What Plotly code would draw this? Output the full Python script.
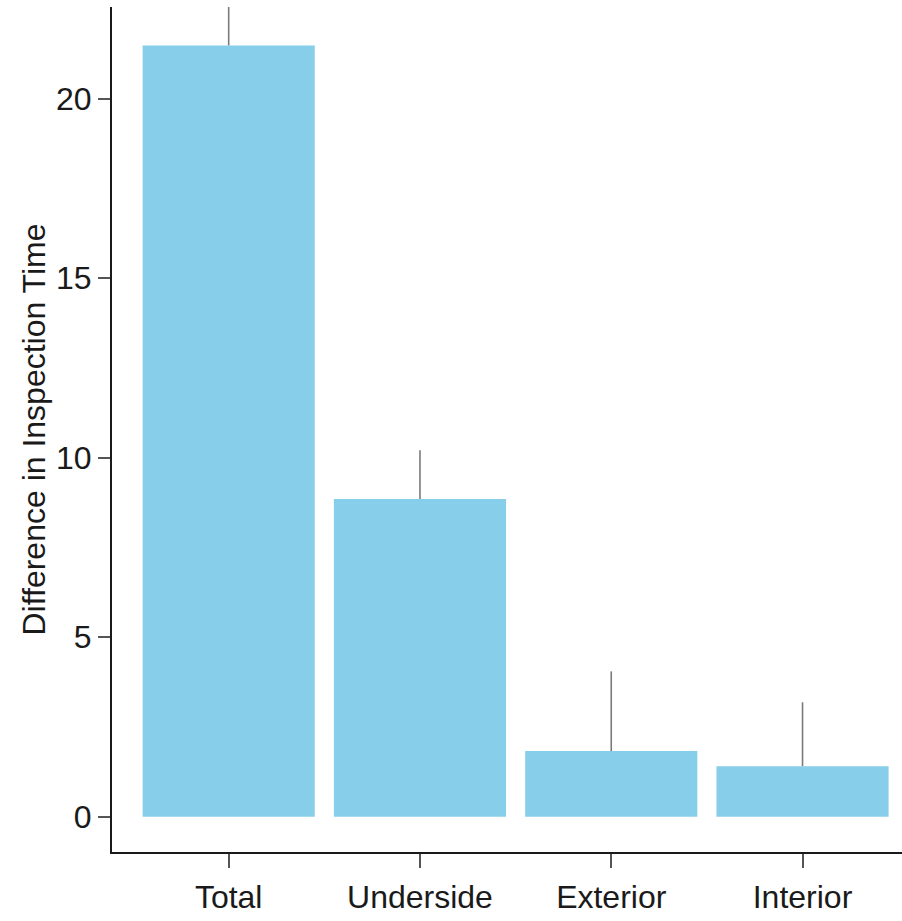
import plotly.graph_objects as go

# Mean difference in inspection time per area, with upper error limits
categories = ["Total", "Underside", "Exterior", "Interior"]
means = [21.48, 8.85, 1.83, 1.41]
upper = [23.2, 10.21, 4.05, 3.19]

y_ticks = [0, 5, 10, 15, 20]

err_plus = [u - m for u, m in zip(upper, means)]
err_minus = [0 for _ in means]

font_family = "Liberation Sans, Arial, sans-serif"

fig = go.Figure(
    go.Bar(
        x=categories,
        y=means,
        width=0.9,
        marker=dict(color="#87CEEB", line=dict(width=0)),
        error_y=dict(
            type="data",
            symmetric=False,
            array=err_plus,
            arrayminus=err_minus,
            color="#7a7a7a",
            thickness=1.6,
            width=0,
        ),
    )
)

fig.update_layout(
    width=902,
    height=921,
    margin=dict(l=112, r=0, t=7, b=69),
    paper_bgcolor="white",
    plot_bgcolor="white",
    showlegend=False,
    font=dict(family=font_family, size=32, color="#1a1a1a"),
)

fig.update_xaxes(
    range=[-0.61, 3.52],
    showgrid=False,
    zeroline=False,
    showline=True,
    linecolor="#1a1a1a",
    linewidth=2.2,
    ticks="outside",
    ticklen=14,
    tickwidth=1.5,
    tickcolor="#555555",
    tickfont=dict(size=32, color="#1a1a1a"),
    ticklabelstandoff=1,
)

fig.update_yaxes(
    range=[-0.98, 22.55],
    tickvals=y_ticks,
    ticktext=[str(v) for v in y_ticks],
    showgrid=False,
    zeroline=False,
    showline=True,
    linecolor="#1a1a1a",
    linewidth=2.2,
    ticks="outside",
    ticklen=12,
    tickwidth=1.5,
    tickcolor="#555555",
    tickfont=dict(size=32, color="#1a1a1a"),
    title=dict(
        text="Difference in Inspection Time",
        font=dict(size=32, color="#1a1a1a"),
        standoff=1,
    ),
)

fig.write_html("out.html")
